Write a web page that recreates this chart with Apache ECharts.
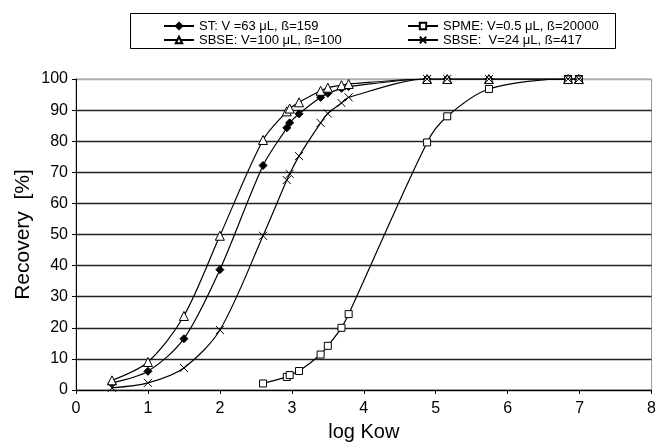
<!DOCTYPE html>
<html>
<head>
<meta charset="utf-8">
<script src="https://cdn.jsdelivr.net/npm/echarts@6/dist/echarts.min.js"></script>
<style>
  html, body { margin: 0; padding: 0; background: #fff; }
  #chart { width: 659px; height: 447px; }
</style>
</head>
<body>
<div id="chart"></div>
<script>
// log Kow 值
var logKow = [0.5, 1, 1.5, 2, 2.6, 2.93, 2.97, 3.1, 3.4, 3.5, 3.69, 3.79, 4.88, 5.16, 5.74, 6.84, 6.99];
// 各方法回收率 [%]
var stRecovery = [2.3, 6, 16.5, 38.7, 72.2, 84.3, 85.9, 88.8, 94.1, 95.4, 97.0, 97.6, 100, 100, 100, 100, 100];
var sbse100Recovery = [3.1, 9, 23.8, 49.6, 80.4, 89.6, 90.5, 92.5, 96.2, 97.2, 98.0, 98.4, 100, 100, 100, 100, 100];
var sbse24Recovery = [0.7, 2.3, 7.1, 19.3, 49.6, 67.5, 69.5, 75.2, 85.9, 88.9, 92.3, 94.1, 100, 100, 100, 100, 100];
// SPME 从 logKow = 2.6 开始
var spmeKow = logKow.slice(4);
var spmeRecovery = [2.1, 4.2, 4.8, 6.1, 11.4, 14.2, 20.0, 24.4, 79.6, 88.0, 96.8, 100, 100];

var seriesNames = ['ST: V =63 μL, ß=159', 'SPME: V=0.5 μL, ß=20000', 'SBSE: V=100 μL, ß=100', 'SBSE:  V=24 μL, ß=417'];

function pairs(xs, ys) {
  var out = [];
  for (var i = 0; i < ys.length; i++) {
    out.push([xs[i], ys[i]]);
  }
  return out;
}

var fontFamily = '"Liberation Sans", Arial, sans-serif';
var crossPath = 'path://M0,0L10,10M10,0L0,10';

function lineSeries(name, data, symbol, size, fill) {
  return {
    name: name,
    type: 'line',
    data: data,
    smooth: 0.3,
    symbol: symbol,
    symbolSize: size,
    showAllSymbol: true,
    lineStyle: { color: '#000', width: 1.2 },
    itemStyle: { color: fill, borderColor: '#000', borderWidth: 1 },
    emphasis: { disabled: true }
  };
}

var legendText = { fontSize: 13, color: '#000', fontFamily: fontFamily, lineHeight: 14 };

var chart = echarts.init(document.getElementById('chart'));
chart.setOption({
  animation: false,
  textStyle: { fontFamily: fontFamily },
  graphic: [{
    type: 'rect',
    shape: { x: 130.5, y: 13.5, width: 485, height: 35 },
    style: { fill: 'none', stroke: '#000', lineWidth: 1 }
  }],
  legend: [
    {
      data: [seriesNames[0], seriesNames[2]],
      orient: 'vertical',
      left: 158,
      top: 14,
      itemWidth: 30,
      itemHeight: 8,
      itemGap: 0,
      textStyle: legendText
    },
    {
      data: [seriesNames[1], seriesNames[3]],
      orient: 'vertical',
      left: 402,
      top: 14,
      itemWidth: 30,
      itemHeight: 8,
      itemGap: 0,
      textStyle: legendText
    }
  ],
  grid: {
    left: 76,
    right: 7,
    top: 79,
    bottom: 53,
    show: true,
    borderColor: '#999',
    borderWidth: 1
  },
  xAxis: {
    type: 'value',
    min: 0,
    max: 8,
    interval: 1,
    name: 'log Kow',
    nameLocation: 'middle',
    nameGap: 32,
    nameMoveOverlap: false,
    nameTextStyle: { fontSize: 20, color: '#000' },
    axisLine: { lineStyle: { color: '#000', width: 1 } },
    axisTick: { show: true, length: 4, lineStyle: { color: '#000' } },
    axisLabel: { fontSize: 16, color: '#000', margin: 11 },
    splitLine: { show: false }
  },
  yAxis: {
    type: 'value',
    min: 0,
    max: 100,
    interval: 10,
    name: 'Recovery  [%]',
    nameLocation: 'middle',
    nameGap: 42,
    nameMoveOverlap: false,
    nameTextStyle: { fontSize: 21, color: '#000' },
    axisLine: { show: true, lineStyle: { color: '#000', width: 1 } },
    axisTick: { show: true, length: 4, lineStyle: { color: '#000' } },
    axisLabel: { fontSize: 16, color: '#000', margin: 8 },
    splitLine: {
      show: true,
      lineStyle: {
        color: ['#222', '#222', '#222', '#222', '#222', '#222', '#222', '#222', '#222', '#222', '#aaa'],
        width: 1.3
      }
    }
  },
  series: [
    lineSeries(seriesNames[0], pairs(logKow, stRecovery), 'diamond', 8, '#000'),
    lineSeries(seriesNames[1], pairs(spmeKow, spmeRecovery), 'rect', 7, '#fff'),
    lineSeries(seriesNames[2], pairs(logKow, sbse100Recovery), 'triangle', 9, '#fff'),
    lineSeries(seriesNames[3], pairs(logKow, sbse24Recovery), crossPath, 8, '#000')
  ]
});
</script>
</body>
</html>
